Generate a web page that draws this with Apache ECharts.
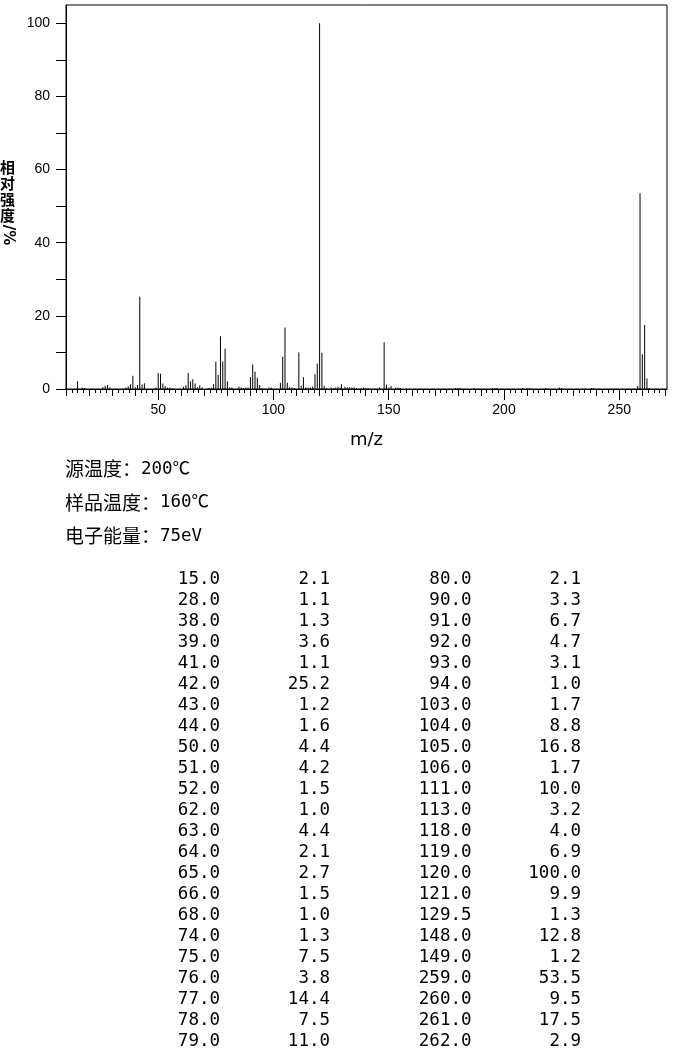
<!DOCTYPE html>
<html>
<head>
<meta charset="utf-8">
<script src="https://cdn.jsdelivr.net/npm/echarts@6/dist/echarts.min.js"></script>
<style>
  html, body { margin: 0; padding: 0; background: #fff; }
  #ms-chart { width: 680px; height: 1049px; }
</style>
</head>
<body>
<div id="ms-chart"></div>
<script>
// peaks listed in the table (m/z, relative intensity %)
const tableMz = [15.0, 28.0, 38.0, 39.0, 41.0, 42.0, 43.0, 44.0, 50.0, 51.0, 52.0, 62.0, 63.0, 64.0, 65.0, 66.0, 68.0, 74.0, 75.0, 76.0, 77.0, 78.0, 79.0,
  80.0, 90.0, 91.0, 92.0, 93.0, 94.0, 103.0, 104.0, 105.0, 106.0, 111.0, 113.0, 118.0, 119.0, 120.0, 121.0, 129.5, 148.0, 149.0, 259.0, 260.0, 261.0, 262.0];
const tableRel = [2.1, 1.1, 1.3, 3.6, 1.1, 25.2, 1.2, 1.6, 4.4, 4.2, 1.5, 1.0, 4.4, 2.1, 2.7, 1.5, 1.0, 1.3, 7.5, 3.8, 14.4, 7.5, 11.0,
  2.1, 3.3, 6.7, 4.7, 3.1, 1.0, 1.7, 8.8, 16.8, 1.7, 10.0, 3.2, 4.0, 6.9, 100.0, 9.9, 1.3, 12.8, 1.2, 53.5, 9.5, 17.5, 2.9];

// small peaks only seen in the plot
const smallMz = [17, 18, 26, 27, 29, 36, 37, 40, 49, 53, 54, 55, 56, 61, 67, 69, 72, 73, 81, 82, 85, 86, 87, 88, 89, 95, 98, 99,
  107, 108, 109, 112, 114, 115, 116, 117, 122, 123, 125, 126, 127, 128, 129, 131, 132, 133, 134, 135, 136, 138, 139, 140, 141,
  146, 150, 151, 153, 154, 155, 179, 180, 181, 187, 195, 196, 197, 208, 210, 211, 218, 224, 225, 238, 239, 258, 263];
const smallRel = [0.4, 0.3, 0.5, 0.9, 0.4, 0.4, 0.7, 0.5, 0.4, 0.8, 0.4, 0.4, 0.3, 0.6, 0.5, 0.4, 0.3, 0.4, 0.5, 0.4, 0.7, 0.4, 0.3, 0.4, 0.4, 0.3, 0.4, 0.4,
  0.5, 0.4, 0.3, 0.9, 0.4, 0.4, 0.4, 0.7, 0.9, 0.3, 0.4, 0.3, 0.4, 0.6, 0.4, 0.6, 0.5, 0.5, 0.4, 0.4, 0.3, 0.3, 0.4, 0.3, 0.3,
  0.4, 0.4, 0.8, 0.4, 0.4, 0.3, 0.3, 0.3, 0.3, 0.3, 0.3, 0.3, 0.3, 0.3, 0.3, 0.3, 0.3, 0.4, 0.3, 0.3, 0.3, 0.8, 0.3];

const xLabels = [50, 100, 150, 200, 250];
const yLabels = [0, 20, 40, 60, 80, 100];
const infoLines = [['源温度：', '200℃'], ['样品温度：', '160℃'], ['电子能量：', '75eV']];

const xMin = 10, xMax = 270.7;

// tick positions for the three tick sizes
const majorTicks = [], midTicks = [], minorTicks = [];
for (let v = 10; v <= 270; v += 2.5) {
  if (v % 50 === 0) majorTicks.push(v);
  else if (v % 10 === 0) midTicks.push(v);
  else minorTicks.push(v);
}
const yTicks = [];
for (let v = 0; v <= 100; v += 10) yTicks.push(v);

const peaks = [];
tableMz.forEach((m, i) => peaks.push([m, tableRel[i]]));
smallMz.forEach((m, i) => peaks.push([m, smallRel[i]]));

const chart = echarts.init(document.getElementById('ms-chart'));

const tickAxis = (ticks, len, extra) => Object.assign({
  type: 'value',
  position: 'bottom',
  min: xMin,
  max: xMax,
  axisLine: { show: false },
  axisTick: { show: true, inside: false, length: len, customValues: ticks, lineStyle: { color: '#000', width: 1 } },
  axisLabel: { show: false },
  splitLine: { show: false }
}, extra || {});

// the table and info text, drawn as graphic texts
const graphics = [];
graphics.push({
  type: 'text', left: 0, top: 159,
  style: { text: '相\n对\n强\n度', font: 'bold 15px "Noto Sans CJK SC"', lineHeight: 16, fill: '#000' }
});
graphics.push({
  type: 'text', x: 8, y: 235, rotation: -Math.PI / 2,
  style: { text: '/%', font: 'bold 15px "DejaVu Sans"', fill: '#000', align: 'center', verticalAlign: 'middle' }
});
infoLines.forEach((ln, i) => {
  graphics.push({
    type: 'text', x: 65, y: 469 + i * 33.5,
    style: {
      text: '{c|' + ln[0] + '}{n|' + ln[1] + '}',
      verticalAlign: 'middle',
      rich: {
        c: { font: '19px "Noto Sans CJK SC"', fill: '#000' },
        n: { font: '17.5px "DejaVu Sans Mono", "Noto Sans CJK SC"', fill: '#000' }
      }
    }
  });
});
const half = 23;
const colRight = [220, 330, 471.5, 581];
for (let i = 0; i < tableMz.length; i++) {
  const side = i < half ? 0 : 1;
  const row = i % half;
  const y = 579 + row * 21;
  graphics.push({
    type: 'text', x: colRight[side * 2], y: y,
    style: { text: tableMz[i].toFixed(1), font: '17.5px "DejaVu Sans Mono"', fill: '#000', align: 'right', verticalAlign: 'middle' }
  });
  graphics.push({
    type: 'text', x: colRight[side * 2 + 1], y: y,
    style: { text: tableRel[i].toFixed(1), font: '17.5px "DejaVu Sans Mono"', fill: '#000', align: 'right', verticalAlign: 'middle' }
  });
}

const option = {
  animation: false,
  backgroundColor: '#fff',
  grid: {
    left: 66, right: 13, top: 5, bottom: 660,
    show: true, borderColor: '#000', borderWidth: 1, backgroundColor: 'transparent'
  },
  xAxis: [
    tickAxis(majorTicks, 11, {
      name: 'm/z',
      nameLocation: 'middle',
      nameGap: 42,
      nameTextStyle: { color: '#000', fontSize: 18, fontFamily: 'DejaVu Sans' },
      axisLine: { show: true, onZero: false, lineStyle: { color: '#000', width: 1 } },
      axisLabel: {
        show: true, customValues: xLabels, margin: 14,
        color: '#000', fontSize: 14, fontFamily: 'Liberation Sans'
      }
    }),
    tickAxis(midTicks, 7),
    tickAxis(minorTicks, 4)
  ],
  yAxis: {
    type: 'value',
    min: 0,
    max: 105,
    axisLine: { show: true, onZero: false, lineStyle: { color: '#000', width: 1 } },
    axisTick: { show: true, inside: false, length: 10, customValues: yTicks, lineStyle: { color: '#000' } },
    axisLabel: { customValues: yLabels, margin: 16, color: '#000', fontSize: 14, fontFamily: 'Liberation Sans' },
    splitLine: { show: false }
  },
  graphic: graphics,
  series: [
    {
      name: 'peaks',
      type: 'bar',
      xAxisIndex: 0,
      barWidth: 1,
      itemStyle: { color: '#000' },
      data: peaks
    }
  ]
};

chart.setOption(option);
</script>
</body>
</html>
